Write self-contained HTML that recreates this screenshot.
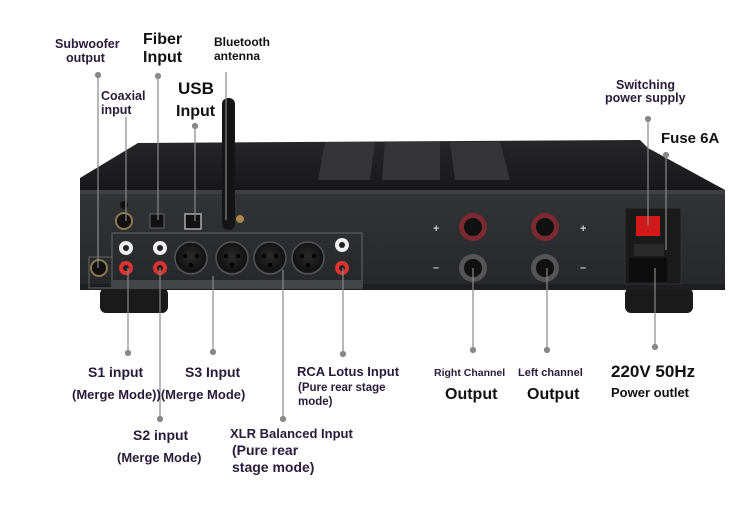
<!DOCTYPE html><html><head><meta charset="utf-8"><style>
body{margin:0;background:#fff;width:750px;height:513px;overflow:hidden}
svg{display:block}
text{font-family:"Liberation Sans",sans-serif;font-weight:bold}
</style></head><body>
<svg width="750" height="513" viewBox="0 0 750 513" xmlns="http://www.w3.org/2000/svg">
<defs>
<radialGradient id="xlr" cx="50%" cy="45%" r="60%"><stop offset="0" stop-color="#2a2a2a"/><stop offset="0.8" stop-color="#111"/><stop offset="1" stop-color="#555"/></radialGradient>
<linearGradient id="lid" x1="0" y1="0" x2="0" y2="1"><stop offset="0" stop-color="#262628"/><stop offset="1" stop-color="#18181a"/></linearGradient>
<linearGradient id="panel" x1="0" y1="0" x2="0" y2="1"><stop offset="0" stop-color="#333437"/><stop offset="1" stop-color="#26272a"/></linearGradient>
</defs>
<rect x="100" y="288" width="68" height="25" rx="6" fill="#1a1a1a"/>
<rect x="625" y="288" width="68" height="25" rx="6" fill="#1a1a1a"/>
<polygon points="138,143 640,140 648,148 725,190 80,190 80,178" fill="url(#lid)"/>
<polygon points="325,142 375,142 370,180 318,180" fill="#353537"/>
<polygon points="385,142 440,142 440,180 382,180" fill="#353537"/>
<polygon points="450,142 500,142 510,180 455,180" fill="#353537"/>
<rect x="80" y="190" width="645" height="100" fill="url(#panel)"/>
<rect x="80" y="190" width="645" height="4" fill="#404043"/>
<rect x="80" y="284" width="645" height="6" fill="#1e1e20"/>
<rect x="112" y="233" width="250" height="55" fill="none" stroke="#666" stroke-width="1"/>
<rect x="89" y="257" width="23" height="31" fill="none" stroke="#666"/>
<rect x="112" y="280" width="250" height="8" fill="#444548"/>
<circle cx="99" cy="268" r="8" fill="#111" stroke="#8a7a50" stroke-width="2"/>
<circle cx="124" cy="221" r="8" fill="#111" stroke="#8a7a50" stroke-width="2"/>
<circle cx="124" cy="205" r="4" fill="#111"/>
<rect x="150" y="214" width="14" height="14" fill="#111" stroke="#666"/>
<rect x="185" y="214" width="16" height="15" fill="#111" stroke="#aaa" stroke-width="1.5"/>
<circle cx="240" cy="219" r="4" fill="#a8884a"/>
<g>
<circle cx="126" cy="248" r="7" fill="#eee"/><circle cx="126" cy="248" r="3" fill="#222"/>
<circle cx="160" cy="248" r="7" fill="#eee"/><circle cx="160" cy="248" r="3" fill="#222"/>
<circle cx="342" cy="245" r="7" fill="#eee"/><circle cx="342" cy="245" r="3" fill="#222"/>
<circle cx="126" cy="268" r="7" fill="#d33"/><circle cx="126" cy="268" r="3" fill="#222"/>
<circle cx="160" cy="268" r="7" fill="#d33"/><circle cx="160" cy="268" r="3" fill="#222"/>
<circle cx="342" cy="268" r="7" fill="#d33"/><circle cx="342" cy="268" r="3" fill="#222"/>
</g>
<g fill="url(#xlr)" stroke="#555" stroke-width="1.5">
<circle cx="191" cy="258" r="16"/><circle cx="232" cy="258" r="16"/><circle cx="270" cy="258" r="16"/><circle cx="308" cy="258" r="16"/>
</g>
<g fill="#000"><circle cx="185" cy="256" r="2"/><circle cx="197" cy="256" r="2"/><circle cx="191" cy="265" r="2"/>
<circle cx="226" cy="256" r="2"/><circle cx="238" cy="256" r="2"/><circle cx="232" cy="265" r="2"/>
<circle cx="264" cy="256" r="2"/><circle cx="276" cy="256" r="2"/><circle cx="270" cy="265" r="2"/>
<circle cx="302" cy="256" r="2"/><circle cx="314" cy="256" r="2"/><circle cx="308" cy="265" r="2"/></g>
<rect x="222" y="98" width="13" height="132" rx="6" fill="#151515"/>
<g>
<circle cx="473" cy="227" r="14" fill="#7a2a30"/><circle cx="473" cy="227" r="9" fill="#111"/>
<circle cx="545" cy="227" r="14" fill="#7a2a30"/><circle cx="545" cy="227" r="9" fill="#111"/>
<circle cx="473" cy="268" r="14" fill="#555"/><circle cx="473" cy="268" r="9" fill="#111"/>
<circle cx="545" cy="268" r="14" fill="#555"/><circle cx="545" cy="268" r="9" fill="#111"/>
</g>
<text x="433" y="232" fill="#ccc" font-size="11">+</text><text x="580" y="232" fill="#ccc" font-size="11">+</text>
<text x="433" y="271" fill="#ccc" font-size="11">–</text><text x="580" y="271" fill="#ccc" font-size="11">–</text>
<rect x="625" y="208" width="56" height="76" fill="#1a1a1a" stroke="#333"/>
<rect x="636" y="216" width="24" height="20" fill="#d21a1a"/>
<rect x="634" y="244" width="30" height="12" fill="#2a2a2a"/>
<rect x="629" y="258" width="38" height="24" fill="#0d0d0d"/>
<g stroke="#888" stroke-width="1.2" fill="#888">
<line x1="98" y1="75" x2="98" y2="268"/><circle cx="98" cy="75" r="2.5"/>
<line x1="126" y1="117" x2="126" y2="221"/>
<line x1="158" y1="76" x2="158" y2="220"/><circle cx="158" cy="76" r="2.5"/>
<line x1="195" y1="126" x2="195" y2="221"/><circle cx="195" cy="126" r="2.5"/>
<line x1="226" y1="72" x2="226" y2="220"/>
<line x1="648" y1="119" x2="648" y2="226"/><circle cx="648" cy="119" r="2.5"/>
<line x1="666" y1="155" x2="666" y2="250"/><circle cx="666" cy="155" r="2.5"/>
<line x1="128" y1="268" x2="128" y2="353"/><circle cx="128" cy="353" r="2.5"/>
<line x1="160" y1="268" x2="160" y2="419"/><circle cx="160" cy="419" r="2.5"/>
<line x1="213" y1="276" x2="213" y2="352"/><circle cx="213" cy="352" r="2.5"/>
<line x1="283" y1="270" x2="283" y2="419"/><circle cx="283" cy="419" r="2.5"/>
<line x1="343" y1="268" x2="343" y2="354"/><circle cx="343" cy="354" r="2.5"/>
<line x1="473" y1="268" x2="473" y2="350"/><circle cx="473" cy="350" r="2.5"/>
<line x1="547" y1="268" x2="547" y2="350"/><circle cx="547" cy="350" r="2.5"/>
<line x1="655" y1="268" x2="655" y2="347"/><circle cx="655" cy="347" r="2.5"/>
</g>
<g fill="#2a1a3a" font-size="12.5">
<text x="55" y="48">Subwoofer</text><text x="66" y="62">output</text>
<text x="101" y="100">Coaxial</text><text x="101" y="114">input</text>
<text x="214" y="46" font-size="12" fill="#111">Bluetooth</text><text x="214" y="60" font-size="12" fill="#111">antenna</text>
<text x="616" y="89">Switching</text><text x="605" y="102">power supply</text>
</g>
<text x="143" y="44" font-size="16" fill="#111">Fiber</text><text x="143" y="62" font-size="16" fill="#111">Input</text>
<text x="178" y="94" font-size="17" fill="#111" font-weight="normal">USB</text><text x="176" y="116" font-size="16" fill="#111">Input</text>
<text x="661" y="143" font-size="15" fill="#111">Fuse 6A</text>
<g fill="#2a1a3a">
<text x="88" y="377" font-size="14">S1 input</text>
<text x="72" y="399" font-size="13">(Merge Mode))(Merge Mode)</text>
<text x="185" y="377" font-size="14">S3 Input</text>
<text x="133" y="440" font-size="14">S2 input</text>
<text x="117" y="462" font-size="13">(Merge Mode)</text>
<text x="230" y="438" font-size="13">XLR Balanced Input</text>
<text x="232" y="455" font-size="14">(Pure rear</text>
<text x="232" y="472" font-size="14">stage mode)</text>
<text x="297" y="376" font-size="13">RCA Lotus Input</text>
<text x="298" y="391" font-size="11.5">(Pure rear stage</text>
<text x="298" y="405" font-size="11.5">mode)</text>
<text x="434" y="376" font-size="10.5">Right Channel</text>
<text x="518" y="376" font-size="11">Left channel</text>
</g>
<text x="445" y="399" font-size="16" fill="#111">Output</text>
<text x="527" y="399" font-size="16" fill="#111">Output</text>
<text x="611" y="377" font-size="17" fill="#111" font-weight="normal">220V 50Hz</text>
<text x="611" y="397" font-size="13" fill="#111">Power outlet</text>
</svg>
</body></html>
